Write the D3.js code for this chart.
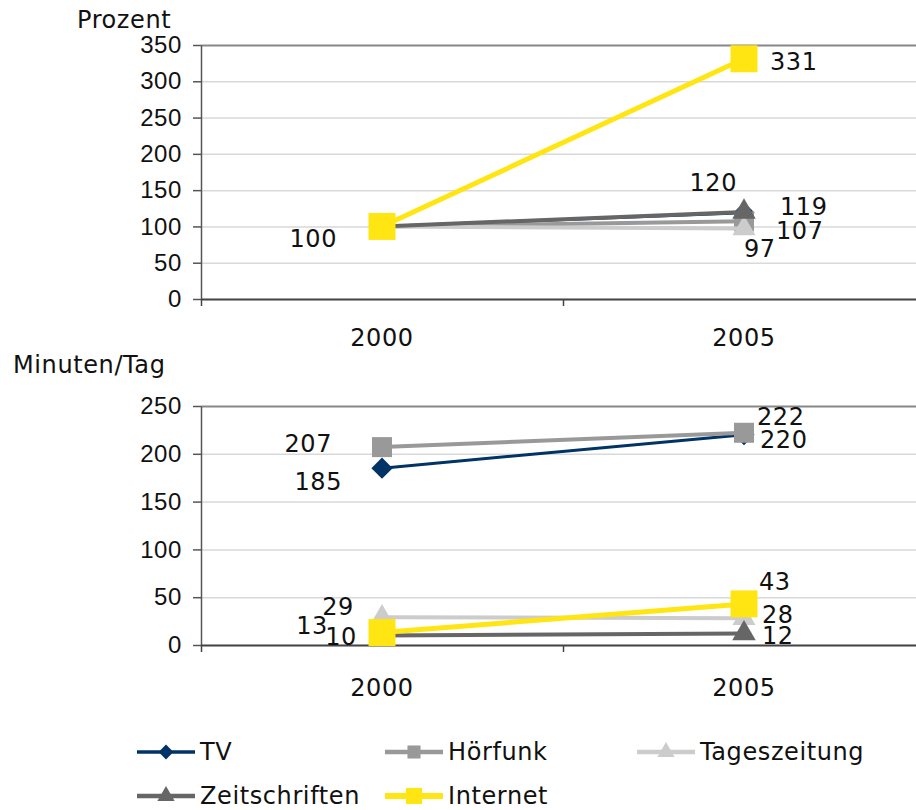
<!DOCTYPE html>
<html>
<head>
<meta charset="utf-8">
<script src="https://cdn.jsdelivr.net/npm/d3@7"></script>
<style>
	body { margin: 0; background: #fff; }
	svg { display: block; font-family: "DejaVu Sans", sans-serif; }
	text { fill: #111; font-size: 24px; letter-spacing: 0.6px; }
</style>
</head>
<body>
<div id="chart"></div>
<script>

// categories + series
var years = ["2000", "2005"];
var seriesNames = ["TV", "Hörfunk", "Tageszeitung", "Zeitschriften", "Internet"];

// top panel: Prozent (2000 = 100)
var pctTV = [100, 119];
var pctHoerfunk = [100, 107];
var pctTageszeitung = [100, 97];
var pctZeitschriften = [100, 120];
var pctInternet = [100, 331];
var pctTicks = [0, 50, 100, 150, 200, 250, 300, 350];

// bottom panel: Minuten/Tag
var minTV = [185, 220];
var minHoerfunk = [207, 222];
var minTageszeitung = [29, 28];
var minZeitschriften = [10, 12];
var minInternet = [13, 43];
var minTicks = [0, 50, 100, 150, 200, 250];


/*
 *	STYLES
 */
var width = 916, height = 810;
var colors = ["#003366", "#999999", "#cccccc", "#666666", "#ffe512"];
var lineWidths = [3, 4, 4, 4, 5];
var symbols = [d3.symbolSquare, d3.symbolSquare, d3.symbolTriangle, d3.symbolTriangle, d3.symbolSquare];
var symbolSizes = [225, 400, 230, 240, 729];
var symbolRotate = [45, 0, 0, 0, 0];

// label offsets from each point: [dx, dy, anchor] per series per year
var pctLabelPos = [
	[[-45, 21, "end"], [36, 2, "start"]],
	[[-45, 21, "end"], [32, 18, "start"]],
	[[-45, 21, "end"], [0, 28, "start"]],
	[[-45, 21, "end"], [-7, -21, "end"]],
	[[-45, 21, "end"], [26, 11, "start"]]
];
var minLabelPos = [
	[[-40, 22, "end"], [16, 13, "start"]],
	[[-50, 5, "end"], [13, -8, "start"]],
	[[-28, -2, "end"], [18, 5, "start"]],
	[[-25, 10, "end"], [18, 10, "start"]],
	[[-54, 1, "end"], [15, -14, "start"]]
];

var svg = d3.select("#chart").append("svg")
	.attr("width", width)
	.attr("height", height);

var xLeft = 201, xRight = 925;

function draw_panel(p){
	var g = svg.append("g");

	var x = d3.scaleBand().domain(years).range([xLeft, xRight]);
	var xEdges = d3.scaleLinear().domain([0, years.length]).range([xLeft, xRight]);
	var y = d3.scaleLinear().domain([0, p.max]).range([p.bottom, p.top]);

	// gridlines
	g.append("g")
		.attr("transform", "translate(" + xLeft + ",0)")
		.call(d3.axisLeft(y).tickValues(p.ticks).tickSize(-(xRight - xLeft)).tickFormat(""))
		.call(function(a){
			a.select(".domain").remove();
			a.selectAll("line").attr("stroke", function(d){ return d === p.max ? "#888" : "#d9d9d9" })
				.attr("stroke-width", function(d){ return d === p.max ? 2 : 1.5 });
		});

	// y axis
	g.append("g")
		.attr("transform", "translate(" + xLeft + ",0)")
		.call(d3.axisLeft(y).tickValues(p.ticks).tickSize(8).tickPadding(11).tickSizeOuter(0))
		.call(function(a){
			a.select(".domain").attr("stroke", "#555").attr("stroke-width", 1.5);
			a.selectAll("line").attr("stroke", "#555").attr("stroke-width", 1.5);
			a.selectAll("text").attr("font-size", null).attr("font-family", null).attr("fill", "#111");
		});

	// x axis (ticks between categories)
	g.append("g")
		.attr("transform", "translate(0," + p.bottom + ")")
		.call(d3.axisBottom(xEdges).tickValues([0, 1, 2]).tickSize(7).tickSizeOuter(0).tickFormat(""))
		.call(function(a){
			a.select(".domain").attr("stroke", "#444").attr("stroke-width", 2);
			a.selectAll("line").attr("stroke", "#444").attr("stroke-width", 1.5);
		});

	// category labels
	g.selectAll(".year").data(years).enter().append("text")
		.attr("class", "year")
		.attr("x", function(d){ return x(d) + x.bandwidth() / 2 })
		.attr("y", p.yearY)
		.attr("text-anchor", "middle")
		.text(function(d){ return d });

	// axis title
	g.append("text")
		.attr("x", p.titleX)
		.attr("y", p.titleY)
		.text(p.title);

	var line = d3.line()
		.x(function(d, i){ return x(years[i]) + x.bandwidth() / 2 })
		.y(function(d){ return y(d) });

	// series lines + markers
	p.series.forEach(function(vals, s){
		g.append("path")
			.datum(vals)
			.attr("d", line)
			.attr("fill", "none")
			.attr("stroke", colors[s])
			.attr("stroke-width", lineWidths[s]);

		g.selectAll(".m" + s).data(vals).enter().append("path")
			.attr("class", "m" + s)
			.attr("d", d3.symbol().type(symbols[s]).size(symbolSizes[s]))
			.attr("transform", function(d, i){
				return "translate(" + (x(years[i]) + x.bandwidth() / 2) + "," + y(d) + ") rotate(" + symbolRotate[s] + ")";
			})
			.attr("fill", colors[s]);
	});

	// data labels (identical labels stacked on the same spot are drawn once)
	var seen = {};
	p.series.forEach(function(vals, s){
		vals.forEach(function(d, i){
			var lx = x(years[i]) + x.bandwidth() / 2 + p.labels[s][i][0],
				ly = y(d) + p.labels[s][i][1],
				key = d + "_" + Math.round(lx) + "_" + Math.round(ly);
			if (seen[key]) return;
			seen[key] = true;
			g.append("text")
				.attr("class", "label")
				.attr("x", lx)
				.attr("y", ly)
				.attr("text-anchor", p.labels[s][i][2])
				.text(d);
		});
	});
}

draw_panel({
	top: 45, bottom: 299, max: 350, ticks: pctTicks,
	series: [pctTV, pctHoerfunk, pctTageszeitung, pctZeitschriften, pctInternet],
	labels: pctLabelPos,
	title: "Prozent", titleX: 77, titleY: 28, yearY: 346
});

draw_panel({
	top: 406, bottom: 645, max: 250, ticks: minTicks,
	series: [minTV, minHoerfunk, minTageszeitung, minZeitschriften, minInternet],
	labels: minLabelPos,
	title: "Minuten/Tag", titleX: 13, titleY: 373, yearY: 696
});


/*
 *	LEGEND
 */
var legendPos = [[137, 752], [385, 752], [637, 752], [137, 796], [385, 796]];
var legendSizes = [110, 170, 130, 130, 260];

var legend = svg.append("g");
seriesNames.forEach(function(name, s){
	var lx = legendPos[s][0], ly = legendPos[s][1];
	legend.append("line")
		.attr("x1", lx).attr("x2", lx + 58)
		.attr("y1", ly).attr("y2", ly)
		.attr("stroke", colors[s])
		.attr("stroke-width", s === 4 ? 6 : (s === 0 ? 3.5 : 4.5));
	legend.append("path")
		.attr("d", d3.symbol().type(symbols[s]).size(legendSizes[s]))
		.attr("transform", "translate(" + (lx + 29) + "," + ly + ") rotate(" + symbolRotate[s] + ")")
		.attr("fill", colors[s]);
	legend.append("text")
		.attr("x", lx + 63)
		.attr("y", ly + 8)
		.text(name);
});

</script>
</body>
</html>
